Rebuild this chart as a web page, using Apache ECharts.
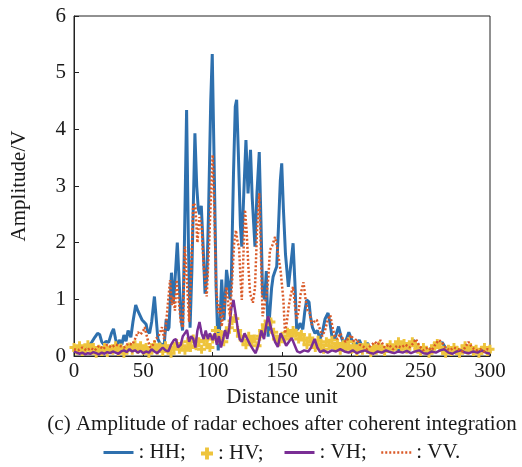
<!DOCTYPE html>
<html><head><meta charset="utf-8">
<script src="https://cdn.jsdelivr.net/npm/echarts@6/dist/echarts.min.js"></script>
<style>html,body{margin:0;padding:0;background:#fff}#c{width:522px;height:467px}</style>
</head><body><div id="c"></div>
<script>
// Distance unit / amplitude (V) samples
const hhX = [0,3,6,9,11,13,15,17,18.5,20,21.5,23,25,27,28.5,30,31,33,34.5,36,37.5,39,41,42.5,44.5,46,47.5,49,50.5,52,53,54.5,56,58,59.5,60.5,62,63.5,65,66.5,67.5,68.5,70.3,71.5,72.5,74.5,75.5,77,78.3,79.5,81.2,82.5,83.7,85,87.2,88.5,89.6,90.6,91.8,93,94.5,95.8,97,98.6,99.7,101,102.5,104,105.3,106.5,107.5,108.2,110,111.2,112.5,113.5,115,116.3,117.3,118.5,120,121,122.5,124,125.5,127.3,128.5,130.5,132,133.6,134.8,136,137.5,138.7,140,141.2,142.5,143.6,145,146.2,147.5,148.8,149.8,151,152.5,154.6,156.3,158,159.3,160.6,162,163,165,166.5,167.8,169.5,170.5,172,173.8,175.5,177.4,179,181,183.2,184.5,186,188,190.8,192.5,194.5,196.5,198.2,200,202,204,205.8,207.5,209.5,211.5,213.5,216,219,222,225,228,231,234,237,240,243,245,247,250,253,256,259,262,265.5,268,271,274,277,280,283,286,289,292,295,298,300];
const hhY = [0.08,0.1,0.07,0.12,0.19,0.25,0.33,0.4,0.38,0.25,0.2,0.26,0.24,0.4,0.48,0.3,0.2,0.28,0.2,0.37,0.26,0.45,0.33,0.6,0.9,0.8,0.72,0.64,0.6,0.56,0.44,0.4,0.6,1.05,0.6,0.3,0.22,0.2,0.18,0.65,0.45,0.5,1.47,0.93,1.2,2.0,1.5,0.7,0.45,1.8,4.34,2.0,0.5,1.5,3.93,3.0,2.6,2.5,2.65,2.0,1.1,1.4,2.5,4.5,5.33,3.5,1.2,0.1,0.6,1.35,0.9,0.63,1.52,1.3,1.0,1.4,3.2,4.4,4.52,3.6,2.3,1.93,2.9,3.81,2.87,3.64,2.8,1.93,2.9,3.6,2.4,1.1,1.0,1.5,0.34,0.76,1.2,1.4,1.5,1.58,2.3,3.1,3.4,2.6,1.8,1.22,1.6,1.99,1.3,0.46,0.5,0.58,0.47,0.8,0.99,0.95,0.7,0.5,0.4,0.45,0.3,0.4,0.65,0.76,0.6,0.35,0.3,0.52,0.35,0.22,0.3,0.42,0.3,0.2,0.22,0.28,0.18,0.15,0.23,0.14,0.12,0.18,0.1,0.15,0.12,0.16,0.1,0.14,0.12,0.2,0.28,0.18,0.1,0.14,0.1,0.18,0.16,0.24,0.14,0.08,0.12,0.08,0.1,0.14,0.08,0.12,0.06,0.1,0.08,0.15];

const vvX = [0,3,6,9,12,15,18,21,24,27,30,33,36,39,42,44,46,48,50,51,53,55,57,59,61,63.5,65,66.5,68,69.3,70.5,71.6,72.8,74,75.5,77,78.5,80,81.5,83,84.5,86,87.5,89,90.5,92,93.5,94.5,95.7,97.5,99,100,101.2,102.5,104,105.3,106.5,108.5,110,111.3,112.5,114,115.5,116.8,118,119,120,121,122.2,123.3,124.5,125.7,127,129,130.5,132,133.6,134.8,136,137.5,139,140.2,141.3,143,145,146.3,147.5,149,151,152.2,153.5,155,156.5,158,159.3,160.6,162,163.5,165.5,167,168.5,170,171.5,173,175,177,179,181,183,184.8,186.5,188,190,192,194,196,198,200,202,204,206,208,211,214,217,219,221,224,227,230,233,236,239,242,244.5,246.5,249,252,255,258,260.5,263,265,268,271,274,277,280,282,284.5,287,290,293,296,298,300];
const vvY = [0.12,0.1,0.15,0.1,0.14,0.1,0.18,0.12,0.2,0.15,0.2,0.18,0.15,0.22,0.2,0.3,0.42,0.38,0.45,0.51,0.3,0.15,0.2,0.3,0.35,0.51,0.3,0.6,1.0,1.34,0.9,1.05,0.8,1.34,1.0,0.6,0.5,1.93,1.3,0.6,1.5,2.7,2.65,2.0,2.45,2.3,1.6,1.57,1.05,2.0,3.0,3.55,2.6,1.2,0.76,0.9,0.52,0.9,1.22,0.9,0.7,1.3,2.0,2.22,2.0,1.93,1.4,0.99,1.8,2.58,2.2,1.6,1.1,0.94,1.2,2.2,2.87,1.8,0.7,0.9,1.1,1.4,1.87,1.95,2.1,1.95,1.93,1.5,0.99,0.4,0.6,0.9,1.1,1.22,0.9,0.64,0.8,1.1,1.3,1.0,0.8,0.76,0.55,0.6,0.64,0.5,0.35,0.45,0.64,0.72,0.5,0.35,0.3,0.4,0.3,0.25,0.32,0.37,0.25,0.3,0.2,0.18,0.12,0.18,0.25,0.2,0.28,0.15,0.2,0.12,0.18,0.15,0.2,0.15,0.22,0.3,0.18,0.1,0.15,0.1,0.2,0.28,0.25,0.15,0.1,0.15,0.12,0.08,0.15,0.25,0.15,0.1,0.12,0.08,0.12,0.1];

const vhX = [0,2,4,6,8,10,12,14,16,18,20,22,24,26,28,30,32,34,36,38,40,42,44,46,48,50,52,54,56,58,60,62,64,66,68,70,72,73.5,75,77,78.5,80,81.5,83,84.5,86,87.5,89,90.5,92,93.5,95,96.5,98,100,101.5,103,104.5,106,107.5,109,110.5,112,113.5,115,116.5,118,119.5,121,123,125,127,129,131,133,135,137,139,140,141.5,143,145,147,149,151,153,155,157,159,161,163,166,169,171,173.5,175.5,177.5,180,183,186,189,192,195,198,201,204,207,210,213,216,219,222,225,228,231,234,237,240,243,246,249,252,255,258,261,264,267,270,273,276,279,282,285,288,291,294,297,300];
const vhY = [0.08,0.06,0.04,0.06,0.03,0.05,0.04,0.07,0.05,0.03,0.06,0.04,0.07,0.05,0.08,0.06,0.04,0.08,0.1,0.07,0.12,0.08,0.1,0.06,0.09,0.05,0.08,0.06,0.12,0.08,0.05,0.1,0.15,0.1,0.08,0.2,0.28,0.3,0.15,0.2,0.35,0.4,0.46,0.25,0.35,0.3,0.15,0.45,0.6,0.4,0.3,0.45,0.3,0.4,0.28,0.4,0.2,0.35,0.15,0.3,0.46,0.3,0.5,0.85,0.99,0.75,0.5,0.3,0.25,0.4,0.3,0.2,0.12,0.05,0.2,0.45,0.3,0.6,0.7,0.55,0.4,0.25,0.16,0.4,0.3,0.18,0.25,0.32,0.2,0.08,0.06,0.1,0.08,0.15,0.3,0.15,0.07,0.1,0.06,0.1,0.08,0.12,0.08,0.06,0.1,0.05,0.08,0.1,0.06,0.04,0.08,0.06,0.1,0.07,0.05,0.08,0.06,0.09,0.05,0.08,0.1,0.05,0.04,0.08,0.06,0.1,0.12,0.06,0.04,0.08,0.1,0.06,0.05,0.08,0.06,0.1,0.06,0.04];

// HV sampled every 2 distance units from 0 to 300
const hvY = [0.15,0.1,0.18,0.08,0.12,0.2,0.1,0.15,0.05,0.12,0.08,0.15,0.06,0.12,0.1,0.18,0.08,0.14,0.05,0.12,0.16,0.1,0.2,0.12,0.18,0.1,0.15,0.05,0.12,0.2,0.1,0.16,0.08,0.18,0.12,0.05,0.15,0.22,0.12,0.18,0.1,0.25,0.15,0.3,0.18,0.25,0.12,0.28,0.2,0.15,0.3,0.45,0.3,0.38,0.25,0.42,0.5,0.62,0.66,0.45,0.35,0.28,0.2,0.35,0.25,0.3,0.18,0.35,0.45,0.55,0.62,0.6,0.42,0.3,0.25,0.35,0.3,0.42,0.35,0.45,0.4,0.3,0.38,0.28,0.2,0.32,0.25,0.15,0.28,0.2,0.12,0.25,0.18,0.28,0.15,0.22,0.1,0.2,0.15,0.25,0.12,0.18,0.08,0.15,0.1,0.2,0.12,0.06,0.15,0.1,0.18,0.12,0.08,0.15,0.2,0.12,0.18,0.25,0.15,0.22,0.12,0.18,0.25,0.2,0.12,0.08,0.15,0.1,0.05,0.12,0.18,0.22,0.15,0.1,0.05,0.12,0.08,0.15,0.1,0.05,0.12,0.18,0.1,0.15,0.08,0.12,0.05,0.1,0.15,0.08,0.12];
const hvStep = 2;

const xTicks = {min:0, max:300, interval:50};
const yTicks = {min:0, max:6, interval:1};
const seriesNames = ['HH','HV','VH','VV'];
const caption = '(c) Amplitude of radar echoes after coherent integration';

const pairs = (xs, ys) => xs.map((x, i) => [x, ys[i]]);
const hhData = pairs(hhX, hhY);
const vvData = pairs(vvX, vvY);
const vhData = pairs(vhX, vhY);
const hvData = hvY.map((v, i) => [i * hvStep, v]);

const FONT = 'Liberation Serif';
const TXT = '#1a1a1a';
const C_HH = '#2E70AE', C_HV = '#EEC43C', C_VH = '#7A2E95', C_VV = '#DA5A28';
const plus = 'path://M2.7,0H5.3V2.7H8V5.3H5.3V8H2.7V5.3H0V2.7H2.7Z';

const chart = echarts.init(document.getElementById('c'), null, {renderer:'canvas'});
const legendBase = {
  top: 442, itemHeight: 14, padding: 0, selectedMode: false,
  textStyle: {fontFamily: FONT, fontSize: 21, color: TXT},
  itemGap: 5
};
const lineLegend = {itemStyle: {opacity: 0}};
chart.setOption({
  animation: false,
  backgroundColor: '#fff',
  grid: {left: 74, top: 16, right: 32, bottom: 111, show: true, borderColor: '#222', borderWidth: 1},
  xAxis: {
    type: 'value', min: xTicks.min, max: xTicks.max, interval: xTicks.interval,
    name: 'Distance unit', nameLocation: 'middle', nameGap: 31,
    nameTextStyle: {fontFamily: FONT, fontSize: 21, color: TXT},
    axisLine: {show: true, lineStyle: {color: '#222', width: 1}},
    axisTick: {show: true, inside: true, length: 4, lineStyle: {color: '#222'}},
    axisLabel: {fontFamily: FONT, fontSize: 21, color: TXT, margin: 5},
    splitLine: {show: false}
  },
  yAxis: {
    type: 'value', min: yTicks.min, max: yTicks.max, interval: yTicks.interval,
    name: 'Amplitude/V', nameLocation: 'middle', nameGap: 44,
    nameTextStyle: {fontFamily: FONT, fontSize: 21, color: TXT},
    axisLine: {show: true, lineStyle: {color: '#222', width: 1}},
    axisTick: {show: true, inside: true, length: 5, lineStyle: {color: '#222'}},
    axisLabel: {fontFamily: FONT, fontSize: 21, color: TXT, margin: 8},
    splitLine: {show: false}
  },
  graphic: [{
    type: 'text', x: 282, y: 424,
    style: {text: caption, fontFamily: FONT, fontSize: 21, fill: TXT, align: 'center', verticalAlign: 'middle'}
  }],
  legend: [
    Object.assign({}, legendBase, lineLegend, {left: 102, itemWidth: 30, lineStyle: {width: 3}, data: ['HH'], formatter: n => ': ' + n + ';'}),
    Object.assign({}, legendBase, {left: 201, itemWidth: 12, itemHeight: 12, top: 443, data: [{name:'HV', icon: plus}], formatter: n => ': ' + n + ';'}),
    Object.assign({}, legendBase, lineLegend, {left: 283, itemWidth: 30, lineStyle: {width: 3}, data: ['VH'], formatter: n => ': ' + n + ';'}),
    Object.assign({}, legendBase, lineLegend, {left: 380, itemWidth: 30, lineStyle: {width: 2.5}, data: ['VV'], formatter: n => ': ' + n + '.'})
  ],
  series: [
    {name: seriesNames[0], type: 'line', data: hhData, symbol: 'none', z: 2,
     lineStyle: {color: C_HH, width: 3}, itemStyle: {color: C_HH}},
    {name: seriesNames[1], type: 'scatter', data: hvData, symbol: plus, symbolSize: 9, z: 3,
     itemStyle: {color: C_HV, opacity: 1}},
    {name: seriesNames[2], type: 'line', data: vhData, symbol: 'none', z: 4,
     lineStyle: {color: C_VH, width: 2.5}, itemStyle: {color: C_VH}},
    {name: seriesNames[3], type: 'line', data: vvData, symbol: 'none', z: 5,
     lineStyle: {color: C_VV, width: 2.5, type: [2, 2]}, itemStyle: {color: C_VV}}
  ]
});
</script>
</body></html>
